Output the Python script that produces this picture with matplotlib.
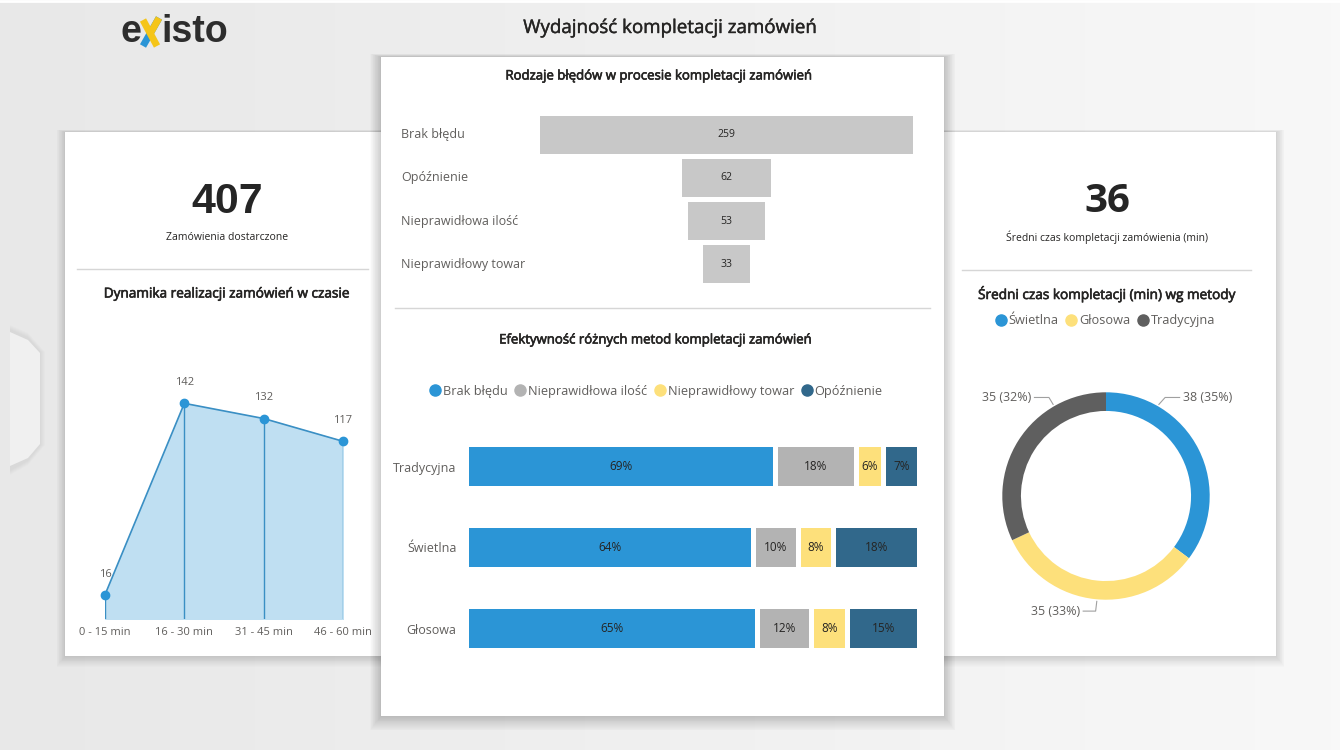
import matplotlib
matplotlib.use("Agg")
import matplotlib.pyplot as plt
import matplotlib.patheffects as pe
import numpy as np
from matplotlib.patches import Rectangle, Polygon
from matplotlib.lines import Line2D

plt.rcParams['font.family'] = ['Open Sans', 'DejaVu Sans']

W, H = 1340, 750

# --- donnees ---
czas_kat = ["0 - 15 min", "16 - 30 min", "31 - 45 min", "46 - 60 min"]
czas_val = [16, 142, 132, 117]

bledy_kat = ["Brak błędu", "Opóźnienie", "Nieprawidłowa ilość", "Nieprawidłowy towar"]
bledy_val = [259, 62, 53, 33]

metody = ["Tradycyjna", "Świetlna", "Głosowa"]
seg_nazwy = ["Brak błędu", "Nieprawidłowa ilość", "Nieprawidłowy towar", "Opóźnienie"]
brak_bledu = [69, 64, 65]
zla_ilosc = [18, 10, 12]
zly_towar = [6, 8, 8]
opoznienie = [7, 18, 15]

donut_kat = ["Świetlna", "Głosowa", "Tradycyjna"]
donut_val = [38.1, 35.4, 34.6]

kpi_zam = 407
kpi_czas = 36

# couleurs
BLUE = "#2b95d6"
GREY = "#b3b3b3"
YEL = "#fde07b"
DBLUE = "#31688b"
DGREY = "#5f5f5f"
TXT = "#252423"
SUB = "#605e5c"

# demi-gras : trait fin autour du texte normal
semi = [pe.withStroke(linewidth=0.45, foreground=TXT)]


def ax_px(l, t, r, b):
    return fig.add_axes([l / W, 1 - b / H, (r - l) / W, (b - t) / H])


fig = plt.figure(figsize=(W / 100, H / 100), dpi=100)

# fond + cartes, en coordonnees pixels
bg = fig.add_axes([0, 0, 1, 1])
grad = np.linspace(0, 1, 300)[None, :]
bg.imshow(grad, extent=[0, W, H, 0], aspect="auto",
          cmap=matplotlib.colors.LinearSegmentedColormap.from_list("g", ["#e8e8e8", "#f0f0f0", "#f8f8f8"]))
bg.set_xlim(0, W)
bg.set_ylim(H, 0)
bg.axis("off")
bg.plot([0, W], [1, 1], color="white", lw=2, zorder=1)

# petit onglet a gauche
for k in range(1, 6):
    bg.add_patch(Polygon([[10, 330 - k], [28, 338 - k], [40 + k, 352], [40 + k, 445], [28, 460 + k], [10, 470 + k]],
                         closed=True, fc="black", ec="none", alpha=0.012, zorder=1))
bg.add_patch(Polygon([[10, 332], [28, 340], [40, 353], [40, 444], [28, 458], [10, 466]],
                     closed=True, fc="#f0f0f0", ec="none", zorder=1))


def carte(l, t, r, b, z, n=12):
    for k in range(n, 0, -1):
        bg.add_patch(Rectangle((l - k * 0.7, t - k * 0.2), r - l + k * 1.4, b - t + k * 1.1,
                               fc="black", ec="none", alpha=0.012, zorder=z))
    bg.add_patch(Rectangle((l, t), r - l, b - t, fc="white", ec="none", zorder=z + 0.5))


carte(65, 132, 390, 656, 2)
carte(944, 132, 1276, 656, 2)
carte(381, 57, 944, 716, 3, n=16)

# logo
bg.text(121, 32, "e", fontsize=27, fontweight="bold", color="#2d2d2d", va="center", ha="left",
        family=["Liberation Sans"], zorder=5)
bg.plot([143, 159], [46, 18], color=BLUE, lw=5, solid_capstyle="butt", zorder=5)
bg.plot([150, 159], [34, 18], color="#f5c518", lw=5, solid_capstyle="butt", zorder=5)
bg.plot([143, 157], [20, 46], color="#f5c518", lw=5, solid_capstyle="butt", zorder=5)
bg.text(161, 32, "isto", fontsize=27, fontweight="bold", color="#2d2d2d", va="center", ha="left",
        family=["Liberation Sans"], zorder=5)

bg.text(670, 28, "Wydajność kompletacji zamówień", fontsize=13.5, color=TXT, ha="center", va="center", zorder=5,
        path_effects=[pe.withStroke(linewidth=0.3, foreground=TXT)])

# KPI gauche
bg.text(227, 202, str(kpi_zam), fontsize=31, fontweight="bold", color="#252525", ha="center", va="center",
        family=["Liberation Sans"], zorder=5)
bg.text(227, 237, "Zamówienia dostarczone", fontsize=7.5, color=TXT, ha="center", va="center", zorder=5)
bg.plot([77, 368], [269, 269], color="#d6d6d6", lw=1, zorder=5)
bg.text(227, 294, "Dynamika realizacji zamówień w czasie", fontsize=9.8, color=TXT,
        ha="center", va="center", zorder=5, path_effects=semi)

# KPI droite
bg.text(1107, 202, str(kpi_czas), fontsize=29, fontweight="bold", color="#252525", ha="center", va="center", zorder=5)
bg.text(1107, 237, "Średni czas kompletacji zamówienia (min)", fontsize=7.5, color=TXT, ha="center", va="center", zorder=5)
bg.plot([962, 1251], [270, 270], color="#d6d6d6", lw=1, zorder=5)
bg.text(1107, 294, "Średni czas kompletacji (min) wg metody", fontsize=9.8, color=TXT,
        ha="center", va="center", zorder=5, path_effects=semi)

# panneau central
bg.text(660, 76, "Rodzaje błędów w procesie kompletacji zamówień", fontsize=9.5, color=TXT,
        ha="center", va="center", zorder=5, path_effects=semi)
bg.plot([395, 930], [308, 308], color="#d6d6d6", lw=1, zorder=5)
bg.text(657, 340, "Efektywność różnych metod kompletacji zamówień", fontsize=9.5, color=TXT,
        ha="center", va="center", zorder=5, path_effects=semi)

# --- aire : dynamika ---
ax1 = ax_px(105, 376, 343, 619)
x = np.arange(len(czas_val))
ax1.fill_between(x, 0, czas_val, color="#bfdff2")
ax1.vlines(x, 0, czas_val, color="#3a8fc4", lw=1)
ax1.plot(x, czas_val, color="#3a8fc4", lw=1.2, marker="o", ms=6, mfc=BLUE, mec=BLUE, clip_on=False)
for xi, v in zip(x, czas_val):
    ax1.annotate(str(v), (xi, v), xytext=(0, 13), textcoords="offset points", ha="center",
                 fontsize=8, color=SUB)
    ax1.text(xi, -9, czas_kat[xi], ha="center", va="center", fontsize=8, color=SUB)
ax1.set_xlim(0, 3)
ax1.set_ylim(0, 160)
ax1.axis("off")

# --- entonnoir ---
ax2 = ax_px(540, 113, 913, 286)
y = np.arange(len(bledy_val))
ax2.barh(y, bledy_val, left=[-v / 2 for v in bledy_val], height=0.88, color="#c8c8c8")
for yi, v in zip(y, bledy_val):
    ax2.text(0, yi, str(v), ha="center", va="center", fontsize=7.5, color=TXT)
    ax2.text(-0.373, yi, bledy_kat[yi], transform=ax2.get_yaxis_transform(), ha="left", va="center",
             fontsize=9, color=SUB)
ax2.set_xlim(-max(bledy_val) / 2, max(bledy_val) / 2)
ax2.set_ylim(3.5, -0.5)
ax2.axis("off")

# --- barres empilees ---
ax3 = ax_px(469, 426, 917, 669)
seg_data = [brak_bledu, zla_ilosc, zly_towar, opoznienie]
seg_col = [BLUE, GREY, YEL, DBLUE]
gap = 1.1
cum = np.zeros(len(metody))
for i, (vals, c) in enumerate(zip(seg_data, seg_col)):
    vals = np.array(vals, dtype=float)
    w = vals - gap if i < len(seg_data) - 1 else vals
    ax3.barh(np.arange(len(metody)), w, left=cum, height=0.48, color=c)
    for j, v in enumerate(vals):
        ax3.text(cum[j] + w[j] / 2, j, f"{int(v)}%", ha="center", va="center", fontsize=8.5, color=TXT)
    cum += vals
ax3.set_xlim(0, 100)
ax3.set_ylim(2.5, -0.5)
ax3.set_yticks(np.arange(len(metody)))
ax3.set_yticklabels(metody, fontsize=9, color=SUB)
ax3.tick_params(axis="y", length=0, pad=9)
ax3.set_xticks([])
for s in ax3.spines.values():
    s.set_visible(False)
ax3.patch.set_alpha(0)

h3 = [Line2D([], [], marker="o", ls="", ms=8, color=c) for c in seg_col]
fig.legend(h3, seg_nazwy, loc="center", bbox_to_anchor=(655 / W, 1 - 391 / H), ncol=4, frameon=False,
           fontsize=9.2, handletextpad=0.0, columnspacing=0.4, handlelength=1.2, labelcolor=SUB)

# --- donut ---
ax4 = ax_px(966, 356, 1246, 636)
d_col = [BLUE, YEL, DGREY]
ax4.pie(donut_val, colors=d_col, startangle=90, counterclock=False, radius=1,
        wedgeprops=dict(width=0.18, edgecolor="none"))
ax4.set_xlim(-1.35, 1.35)
ax4.set_ylim(-1.35, 1.35)
ax4.set_aspect("equal")

tot = sum(donut_val)
anc = [60, 265, 120]
lab_pos = [(0.57, 0.95, 0.71, "left"), (-0.1, -1.11, -0.22, "right"), (-0.55, 0.95, -0.69, "right")]
for v, a, (ex, ey, tx, ha) in zip(donut_val, anc, lab_pos):
    ax0, ay0 = np.cos(np.radians(a)) * 1.02, np.sin(np.radians(a)) * 1.02
    ax4.plot([ax0, ex, tx], [ay0, ey, ey], color="#a0a0a0", lw=0.8, clip_on=False)
    ax4.text(tx + (0.03 if ha == "left" else -0.03), ey, f"{round(v)} ({round(v / tot * 100)}%)",
             ha=ha, va="center", fontsize=9, color=SUB)

h4 = [Line2D([], [], marker="o", ls="", ms=8, color=c) for c in d_col]
fig.legend(h4, donut_kat, loc="center", bbox_to_anchor=(1104 / W, 1 - 321 / H), ncol=3, frameon=False,
           fontsize=9.2, handletextpad=0.0, columnspacing=0.4, handlelength=1.2, labelcolor=SUB)

fig.savefig("out.png", dpi=100)
